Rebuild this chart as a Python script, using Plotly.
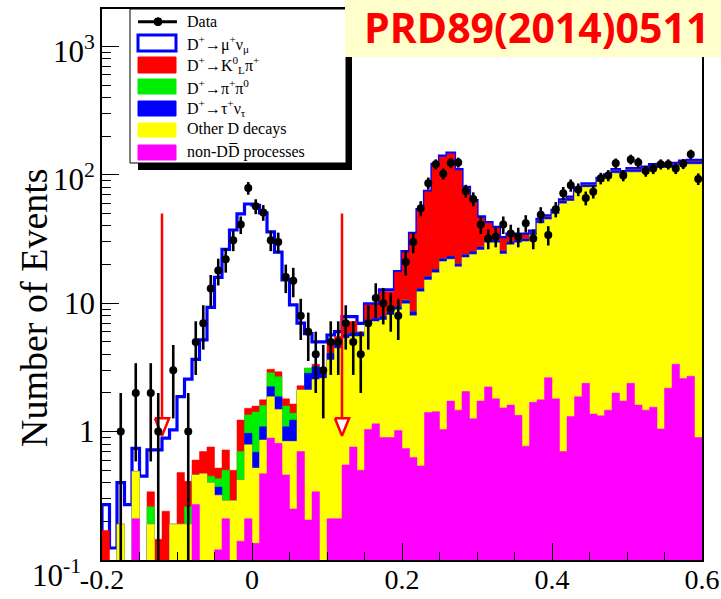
import numpy as np
import plotly.graph_objects as go

# ---------------- data ----------------
bin_low = -0.20
bin_width = 0.01
n_bins = 80

data_counts = [0, 0, 1, 0, 2, 0, 2, 1, 0, 3,
               0, 1, 5, 7, 13, 18, 22, 31, 41, 79,
               57, 51, 31, 30, 16, 15, 8, 6, 4, 3,
               5, 5, 7, 5, 4, 7, 11, 10, 9, 8,
               21, 30, 55, 86, 121, 102, 124, 125, 75, 65,
               41, 32, 33, 41, 35, 33, 42, 32, 49, 34,
               54, 72, 83, 77, 66, 74, 94, 99, 123, 99,
               132, 125, 107, 112, 121, 121, 112, 122, 145, 93]

# stacked (cumulative) levels, bottom -> top
stack_nonDD = [0, 0, 0, 0, 0.21, 0, 0, 0, 0, 0,
               0, 0, 0.27, 0, 0, 0.12, 0.21, 0, 0.14, 0.21,
               0.135, 0.47, 0.89, 0.81, 0.46, 0.25, 0.70, 0.205, 0.34, 0,
               0.21, 0.21, 0.55, 0.76, 0.50, 1.04, 1.15, 0.90, 0.90, 1.02,
               0.74, 0.63, 0.54, 1.41, 1.43, 1.04, 1.73, 1.47, 2.05, 1.26,
               1.73, 2.23, 1.80, 1.53, 1.61, 1.34, 0.77, 1.69, 1.77, 2.63,
               1.80, 0.70, 1.31, 1.87, 2.38, 1.37, 1.33, 1.47, 2.0, 1.73,
               2.38, 1.61, 1.47, 1.55, 1.05, 2.18, 3.35, 2.59, 2.70, 0.90]

stack_otherD = [0, 0, 0.19, 0, 0.49, 0, 0.19, 0, 0, 0.19,
                0.19, 0.19, 0.46, 0.47, 0.40, 0.32, 0.29, 0.29, 0.42, 0.79,
                0.52, 0.86, 1.87, 1.49, 0.84, 0.84, 2.11, 2.11, 2.55, 2.6,
                3.62, 4.46, 5.33, 5.5, 5.5, 7.0, 7.2, 7.4, 8.1, 8.9,
                9.9, 8.0, 12.3, 15.2, 17.3, 21.1, 22, 19.2, 22.7, 24,
                26, 29.6, 29.6, 24.2, 28.5, 29.6, 30.2, 34, 42, 45,
                49.5, 59.5, 62.5, 74, 80, 80, 88, 94, 103, 99,
                105, 105, 108, 112, 113, 113, 115, 120, 121, 121]

stack_taunu = [0, 0, 0.19, 0, 0.49, 0, 0.19, 0, 0, 0.19,
               0.19, 0.19, 0.46, 0.47, 0.40, 0.37, 0.29, 0.29, 0.42, 0.97,
               0.69, 1.09, 2.24, 1.87, 1.09, 1.23, 2.11, 2.85, 3.2, 2.9,
               4.08, 4.8, 5.7, 5.9, 5.9, 7.4, 7.6, 7.9, 8.6, 9.4,
               10.5, 8.6, 13.0, 16.1, 18.3, 22.2, 23.2, 20.2, 23.9, 25.3,
               27.4, 31, 31, 25.5, 30, 31, 31.6, 35.5, 44, 47,
               51.8, 62.5, 65.5, 77.5, 83.5, 83.5, 92, 98, 107.5, 103.5,
               109.5, 109.5, 112.5, 117, 118, 118, 120, 125, 126.5, 126.5]

stack_pipi0 = [0, 0, 0.19, 0, 0.49, 0, 0.26, 0, 0, 0.19,
               0.19, 0.26, 0.46, 0.47, 0.45, 0.43, 0.50, 0.29, 0.70, 1.35,
               1.42, 1.6, 2.88, 2.68, 1.58, 1.39, 2.11, 3.12, 3.2, 2.9,
               4.08, 4.8, 5.7, 5.9, 5.9, 7.4, 7.6, 7.9, 8.6, 9.4,
               10.6, 8.6, 13.0, 16.1, 18.3, 22.2, 23.2, 20.2, 23.9, 25.3,
               27.4, 31, 31, 25.5, 30, 31, 31.6, 35.5, 44, 47,
               51.8, 62.5, 65.5, 77.5, 83.5, 83.5, 92, 98, 107.5, 103.5,
               109.5, 109.5, 112.5, 117, 118, 118, 120, 125, 126.5, 126.5]

stack_KLpi = [0.17, 0, 0.19, 0, 0.49, 0, 0.34, 0.145, 0.24, 0.19,
              0.48, 0.41, 0.60, 0.70, 0.76, 0.52, 0.72, 0.50, 1.23, 1.52,
              1.58, 1.77, 3.06, 2.93, 1.8, 1.64, 2.28, 3.12, 3.35, 3.0,
              4.93, 5.5, 7.2, 7.2, 6.0, 9.7, 9.7, 12.3, 12.3, 17.4,
              24.9, 34.6, 53.2, 73.8, 120, 138, 146, 108, 79, 62,
              46, 42, 38.5, 32, 34, 34, 34, 36, 44.6, 47.6,
              52.5, 63.3, 66.3, 78.5, 84.3, 84.3, 93, 99, 109, 105,
              111, 111, 114, 118.5, 120, 120, 122, 127, 128.5, 128.5]

stack_munu = [0.27, 0.124, 0.40, 0.27, 0.74, 0.45, 0.72, 0.72, 0.89, 1.03,
              1.87, 2.56, 3.66, 5.18, 9.3, 15.9, 26.3, 37.2, 49.6, 59.3,
              58, 50.5, 36, 25, 15.2, 9.7, 7.0, 5.8, 5.0, 5.0,
              5.66, 6.0, 7.86, 7.86, 6.97, 9.9, 9.9, 12.7, 12.7, 17.6,
              25.3, 35, 53.6, 74.5, 121, 140, 148, 110, 80, 63,
              47, 42.5, 39, 32.5, 34.5, 34.5, 34.5, 36.5, 45, 48,
              53, 64, 67, 79, 85, 85, 94, 100, 110, 106,
              112, 112, 115, 120, 121, 121, 123, 128, 130, 130]

cut_values = [-0.12, 0.12]
x_tick_vals = [-0.2, 0, 0.2, 0.4, 0.6]
x_tick_text = ["-0.2", "0", "0.2", "0.4", "0.6"]
y_tick_vals = [0.1, 1, 10, 100, 1000]
y_tick_text = ["10<sup>-1</sup>", "1", "10", "10<sup>2</sup>", "10<sup>3</sup>"]

# ---------------- layout geometry ----------------
W_FIG, H_FIG = 721, 599
ML, MR, MT, MB = 102, 19, 9, 39
PW, PH = W_FIG - ML - MR, H_FIG - MT - MB
SERIF = "Liberation Serif, Times New Roman, serif"
FLOOR = 1e-4


def px(x):
    return (x - ML) / PW


def py(y):
    return (H_FIG - MB - y) / PH


edges = bin_low + bin_width * np.arange(n_bins + 1)
centers = edges[:-1] + bin_width / 2


def step_xy(vals):
    v = [val if val > 0 else FLOOR for val in vals]
    xs = [edges[0]] + list(edges[:-1]) + [edges[-1], edges[-1]]
    ys = [FLOOR] + v + [v[-1], FLOOR]
    return xs, ys


fig = go.Figure()

# total (D+ -> mu nu on top): blue outline
xs, ys = step_xy(stack_munu)
fig.add_trace(go.Scatter(x=xs, y=ys, mode="lines", line_shape="hv",
                         line=dict(color="#0000ff", width=3.2),
                         hoverinfo="skip", showlegend=False))

layers = [(stack_KLpi, "#ff0000"), (stack_pipi0, "#00ee00"),
          (stack_taunu, "#0000ff"), (stack_otherD, "#ffff00"),
          (stack_nonDD, "#ff00ff")]
for vals, col in layers:
    xs, ys = step_xy(vals)
    fig.add_trace(go.Scatter(x=xs, y=ys, mode="lines", line_shape="hv",
                             line=dict(color=col, width=0.5),
                             fill="tozeroy", fillcolor=col,
                             hoverinfo="skip", showlegend=False))

# cut arrows
head_half = 0.0095
head_top, head_tip, arrow_top = 1.27, 0.93, 50
for c in cut_values:
    fig.add_trace(go.Scatter(x=[c, c], y=[arrow_top, head_top], mode="lines",
                             line=dict(color="#ff0000", width=2.5),
                             hoverinfo="skip", showlegend=False))
    fig.add_trace(go.Scatter(x=[c - head_half, c + head_half, c, c - head_half],
                             y=[head_top, head_top, head_tip, head_top],
                             mode="lines", fill="toself", fillcolor="white",
                             line=dict(color="#ff0000", width=2.5),
                             hoverinfo="skip", showlegend=False))

# data points
dc = np.array(data_counts, dtype=float)
mask = dc > 0
fig.add_trace(go.Scatter(x=centers[mask], y=dc[mask], mode="markers",
                         marker=dict(color="black", size=8),
                         error_y=dict(type="data", array=np.sqrt(dc[mask]),
                                      color="black", thickness=2.6, width=0),
                         hoverinfo="skip", showlegend=False))

fig.update_xaxes(range=[-0.2, 0.6], showgrid=False, zeroline=False,
                 automargin=False,
                 showline=True, mirror=True, linecolor="black", linewidth=1.5,
                 ticks="inside", ticklen=17, tickwidth=1.3, tickcolor="black",
                 tickmode="array", tickvals=x_tick_vals, ticktext=x_tick_text,
                 ticklabelstandoff=-6,
                 tickfont=dict(family=SERIF, size=28, color="black"),
                 minor=dict(ticks="inside", ticklen=8, tickwidth=1.3,
                            dtick=0.05, tick0=0, tickcolor="black"))
fig.update_yaxes(type="log", range=[-1, 3.292], showgrid=False, zeroline=False,
                 automargin=False,
                 showline=True, mirror=True, linecolor="black", linewidth=1.5,
                 ticks="inside", ticklen=17, tickwidth=1.3, tickcolor="black",
                 tickmode="linear", tick0=0, dtick=1, showticklabels=False,
                 minor=dict(ticks="inside", ticklen=9, tickwidth=1.3,
                            dtick="D1", tickcolor="black"))

ann = []
shapes = []
for v, t in zip(y_tick_vals, y_tick_text):
    ann.append(dict(x=0, xref="paper", y=np.log10(v), yref="y", text=t,
                    showarrow=False, xanchor="right", yanchor="middle",
                    xshift=(-20 if v < 1 else -6),
                    yshift=(-13 if v < 1 else (-3 if v > 10 else 0)),
                    borderpad=0,
                    font=dict(family=SERIF, size=31, color="black")))

ann.append(dict(x=px(34), y=py(308), xref="paper", yref="paper",
                text="Number of Events", textangle=-90, showarrow=False,
                xanchor="center", yanchor="middle",
                font=dict(family=SERIF, size=38, color="black")))

# legend box with shadow
shapes.append(dict(type="rect", xref="paper", yref="paper", layer="above",
                   x0=px(138), x1=px(352), y0=py(170), y1=py(17),
                   fillcolor="black", line=dict(width=0)))
shapes.append(dict(type="rect", xref="paper", yref="paper", layer="above",
                   x0=px(130), x1=px(346), y0=py(163), y1=py(9),
                   fillcolor="white", line=dict(color="black", width=1)))
# Data symbol
shapes.append(dict(type="line", xref="paper", yref="paper", layer="above",
                   x0=px(138), x1=px(177), y0=py(21.7), y1=py(21.7),
                   line=dict(color="black", width=3)))
shapes.append(dict(type="circle", xref="paper", yref="paper", layer="above",
                   x0=px(154), x1=px(162), y0=py(25.7), y1=py(17.7),
                   fillcolor="black", line=dict(color="black", width=1)))
# boxes
box_specs = [(35, 51, "white", "#0000ff", 3),
             (57, 73, "#ff0000", "#ff0000", 1),
             (79, 94, "#00ee00", "#00ee00", 1),
             (101, 116, "#0000ff", "#0000ff", 1),
             (123, 137, "#ffff00", "#ffff00", 1),
             (145, 160, "#ff00ff", "#ff00ff", 1)]
for y0, y1, fc, lc, lw in box_specs:
    shapes.append(dict(type="rect", xref="paper", yref="paper", layer="above",
                       x0=px(138), x1=px(176), y0=py(y1), y1=py(y0),
                       fillcolor=fc, line=dict(color=lc, width=lw)))

legend_texts = [("Data", 21),
                ("D<sup>+</sup>\u2192\u03bc<sup>+</sup>\u03bd<sub>\u03bc</sub>", 44),
                ("D<sup>+</sup>\u2192K<sup>0</sup><sub>L</sub>\u03c0<sup>+</sup>", 65),
                ("D<sup>+</sup>\u2192\u03c0<sup>+</sup>\u03c0<sup>0</sup>", 87),
                ("D<sup>+</sup>\u2192\u03c4<sup>+</sup>\u03bd<sub>\u03c4</sub>", 108),
                ("Other D decays", 129),
                ("non-DD\u0305 processes", 152)]
for t, yy in legend_texts:
    ann.append(dict(x=px(185), y=py(yy), xref="paper", yref="paper", text=t,
                    showarrow=False, xanchor="left", yanchor="middle",
                    font=dict(family=SERIF, size=16, color="black")))

# reference banner
shapes.append(dict(type="rect", xref="paper", yref="paper", layer="above",
                   x0=px(345), x1=px(721), y0=py(57), y1=py(0),
                   fillcolor="#ffffcc", line=dict(width=0)))
ann.append(dict(x=px(362), y=py(27), xref="paper", yref="paper",
                text="PRD89(2014)0511", showarrow=False, xanchor="left",
                yanchor="middle",
                font=dict(family="Open Sans", size=41, color="#ff0000", weight="bold")))

fig.update_layout(width=W_FIG, height=H_FIG, autosize=False,
                  margin=dict(l=ML, r=MR, t=MT, b=MB, pad=0),
                  paper_bgcolor="white", plot_bgcolor="white",
                  showlegend=False, annotations=ann, shapes=shapes)

fig.write_html("out.html")
